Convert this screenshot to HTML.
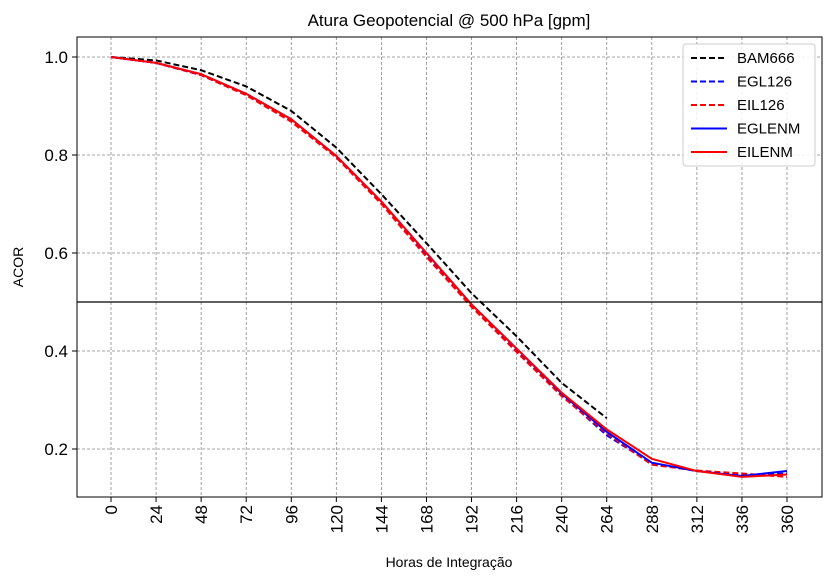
<!DOCTYPE html>
<html><head><meta charset="utf-8"><style>
body{margin:0;background:#fff;}
svg{display:block;font-family:"Liberation Sans","DejaVu Sans",sans-serif;}
</style></head><body>
<svg id="chart" width="833" height="582">
<g id="grid"></g>
<g id="series"></g>
<g id="axes"></g>
<text x="449" y="26" text-anchor="middle" font-size="17">Atura Geopotencial @ 500 hPa [gpm]</text>
<text x="449" y="567" text-anchor="middle" font-size="14">Horas de Integração</text>
<text x="23" y="267" text-anchor="middle" font-size="14" transform="rotate(-90 23 267)">ACOR</text>
<g id="legend"></g>
</svg>
<script>
const hours=[0,24,48,72,96,120,144,168,192,216,240,264,288,312,336,360];
const yTicks=[0.2,0.4,0.6,0.8,1.0];
const bam666=[1.0,0.993,0.973,0.94,0.89,0.815,0.72,0.62,0.518,0.43,0.335,0.263];
const egl126=[1.0,0.988,0.963,0.923,0.87,0.795,0.702,0.595,0.492,0.4,0.31,0.228,0.17,0.155,0.146,0.15];
const eil126=[1.0,0.988,0.963,0.922,0.868,0.795,0.70,0.592,0.49,0.398,0.308,0.232,0.168,0.156,0.15,0.143];
const eglenm=[1.0,0.988,0.965,0.925,0.873,0.798,0.705,0.60,0.495,0.405,0.313,0.235,0.172,0.155,0.145,0.155];
const eilenm=[1.0,0.988,0.965,0.925,0.873,0.798,0.705,0.60,0.495,0.405,0.315,0.24,0.18,0.155,0.143,0.148];
const NS='http://www.w3.org/2000/svg';
const L=77,R=822,T=37,B=497;
function xs(h){return 111+h*(787-111)/360;}
function ys(v){return 57+(1-v)*490;}
function mk(tag,attrs,parent){const e=document.createElementNS(NS,tag);for(const k in attrs)e.setAttribute(k,attrs[k]);parent.appendChild(e);return e;}
const grid=document.getElementById('grid'),axes=document.getElementById('axes'),ser=document.getElementById('series'),leg=document.getElementById('legend');
hours.forEach(h=>{
 const g=mk('line',{x1:xs(h),x2:xs(h),y1:T,y2:B,stroke:'#888','stroke-width':0.8,'stroke-dasharray':'3,2'},grid);
 
 
 const t=mk('line',{x1:xs(h),x2:xs(h),y1:B,y2:B+5,stroke:'#000','stroke-width':1},axes);
 
 
 const tx=mk('text',{x:0,y:0,'font-size':17,'text-anchor':'end',transform:`translate(${xs(h)+6},${B+8}) rotate(-90)`},axes);
 tx.textContent=h;
 
 
});
yTicks.forEach(v=>{
 const g=mk('line',{x1:L,x2:R,y1:ys(v),y2:ys(v),stroke:'#888','stroke-width':0.8,'stroke-dasharray':'3,2'},grid);
 
 
 const t=mk('line',{x1:L-5,x2:L,y1:ys(v),y2:ys(v),stroke:'#000'},axes);
 
 
 const tx=mk('text',{x:L-9,y:ys(v)+6,'font-size':17,'text-anchor':'end'},axes);
 tx.textContent=v.toFixed(1);
 
 
});
const ref=mk('line',{x1:L,x2:R,y1:ys(0.5),y2:ys(0.5),stroke:'#000','stroke-width':1.3},axes);


const frame=mk('rect',{x:L,y:T,width:R-L,height:B-T,fill:'none',stroke:'#000','stroke-width':1},axes);


const defs=[['BAM666',bam666,'#000',true],['EGL126',egl126,'#00f',true],['EIL126',eil126,'#f00',true],['EGLENM',eglenm,'#00f',false],['EILENM',eilenm,'#f00',false]];
defs.forEach(([name,vals,col,dash],i)=>{
 const pts=vals.map((v,j)=>xs(hours[j])+','+ys(v)).join(' ');
 const p=mk('polyline',{points:pts,fill:'none',stroke:col,'stroke-width':2,'stroke-dasharray':dash?'6,3':'none'},ser);
 
 
});
const box=mk('rect',{x:683,y:44,width:132,height:122,rx:3,fill:'#fff','fill-opacity':0.85,stroke:'#ccc'},leg);


defs.forEach(([name,vals,col,dash],i)=>{
 const y=58+i*23.5;
 const g=mk('g',{},leg);
 
 
 mk('line',{x1:691,x2:727,y1:y,y2:y,stroke:col,'stroke-width':2,'stroke-dasharray':dash?'6,3':'none'},g);
 const t=mk('text',{x:737,y:y+5,'font-size':15},g);
 t.textContent=name;
});
</script>
</body></html>
